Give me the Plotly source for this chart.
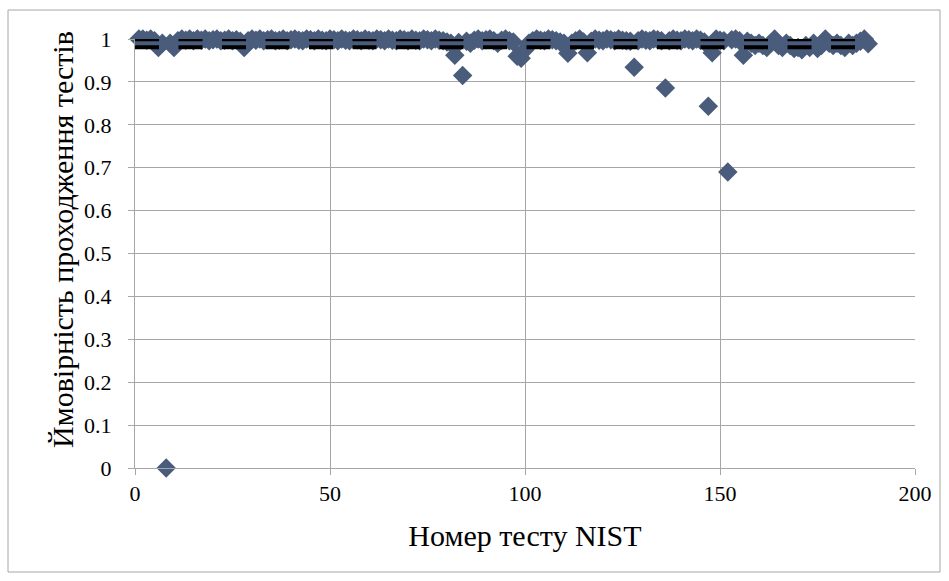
import plotly.graph_objects as go

# NIST STS test index and proportion of sequences that passed each test
test_number = list(range(1, 189))
pass_rate = [
    1.0, 1.0, 0.997, 1.0, 0.996, 0.98, 0.99, 0.0, 0.99, 0.98,
    0.996, 1.0, 0.997, 1.0, 0.996, 1.0, 0.997, 1.0, 0.996, 0.998,
    1.0, 0.996, 0.997, 1.0, 0.996, 0.998, 0.995, 0.98, 0.996, 1.0,
    0.997, 1.0, 0.996, 0.998, 1.0, 0.996, 0.997, 1.0, 0.996, 0.998,
    1.0, 0.997, 0.996, 1.0, 0.998, 0.996, 1.0, 0.997, 0.996, 1.0,
    0.998, 0.996, 1.0, 0.997, 0.996, 1.0, 0.998, 0.996, 1.0, 0.997,
    0.996, 1.0, 0.998, 0.996, 1.0, 0.997, 0.996, 1.0, 0.998, 0.996,
    1.0, 0.997, 0.996, 1.0, 0.998, 0.996, 1.0, 0.997, 0.996, 0.993,
    0.99, 0.962, 0.992, 0.915, 0.995, 0.99, 0.997, 1.0, 0.996, 0.998,
    1.0, 0.996, 0.99, 0.997, 1.0, 0.996, 0.993, 0.96, 0.955, 0.975,
    0.99, 0.996, 1.0, 0.997, 0.996, 1.0, 0.998, 0.996, 0.993, 0.99,
    0.967, 0.99, 0.996, 1.0, 0.993, 0.968, 0.995, 1.0, 0.997, 0.996,
    1.0, 0.998, 0.996, 1.0, 0.997, 0.996, 0.995, 0.934, 0.996, 1.0,
    0.997, 0.996, 1.0, 0.998, 0.996, 0.886, 0.996, 1.0, 0.997, 0.996,
    1.0, 0.998, 0.996, 1.0, 0.997, 0.993, 0.843, 0.968, 1.0, 0.997,
    0.996, 0.69, 0.998, 1.0, 0.996, 0.962, 0.995, 0.99, 0.985, 0.99,
    0.985, 0.98, 0.99, 1.0, 0.985, 0.98, 0.99, 0.985, 0.978, 0.98,
    0.975, 0.985, 0.98, 0.99, 0.978, 0.985, 1.0, 0.99, 0.985, 0.99,
    0.985, 0.98, 0.99, 0.985, 0.99, 0.995, 1.0, 0.989,
]

# Acceptable-proportion interval (p = 0.99, 1000 sequences)
bound_x = [0, 188]
upper_bound = 0.9994
lower_bound = 0.9806

x_ticks = [0, 50, 100, 150, 200]
y_ticks = [round(0.1 * i, 1) for i in range(11)]

x_title = "Номер тесту NIST"
y_title = "Ймовірність проходження тестів"

W, H = 949, 581
ML, MR, MT, MB = 135, 34, 39, 113
plot_w = W - ML - MR
plot_h = H - MT - MB


def px_x(p):
    return (p - ML) / plot_w


def px_y(p):
    return (H - MB - p) / plot_h


fig = go.Figure()

fig.add_trace(go.Scatter(
    x=test_number, y=pass_rate, mode="markers",
    marker=dict(symbol="diamond", size=15, color="#4A5C7B",
                line=dict(width=0)),
    cliponaxis=False, showlegend=False,
))

for level in (upper_bound, lower_bound):
    fig.add_trace(go.Scatter(
        x=bound_x, y=[level, level], mode="lines",
        line=dict(color="black", width=4, dash="24px,19.5px"),
        cliponaxis=False, showlegend=False,
    ))

serif = "Liberation Serif, Times New Roman, serif"
axis_font = dict(family=serif, size=22, color="black")
title_font = dict(family=serif, size=30, color="black")

fig.update_xaxes(
    range=[0, 200], tickvals=x_ticks, ticktext=[str(v) for v in x_ticks],
    showgrid=True, gridcolor="#A6A6A6", gridwidth=1,
    showline=True, linecolor="#A6A6A6", linewidth=1,
    ticks="outside", ticklen=6, tickcolor="#A6A6A6",
    tickfont=axis_font, zeroline=False,
    title=dict(text=x_title, font=title_font, standoff=19),
)
fig.update_yaxes(
    range=[0, 1], tickvals=y_ticks,
    ticktext=[("%g" % v) for v in y_ticks],
    showgrid=True, gridcolor="#A6A6A6", gridwidth=1,
    showline=True, linecolor="#A6A6A6", linewidth=1,
    ticks="outside", ticklen=6, tickcolor="#A6A6A6",
    tickfont=axis_font, zeroline=False, ticklabelstandoff=12,
)

# vertical axis title
fig.add_annotation(
    text=y_title, textangle=-90, showarrow=False,
    xref="paper", yref="paper", x=px_x(62), y=px_y(240),
    xanchor="center", yanchor="middle", font=title_font,
)

# thin frame around the whole chart
fig.add_shape(type="rect", xref="paper", yref="paper",
              x0=px_x(8), x1=px_x(940), y0=px_y(572), y1=px_y(10),
              line=dict(color="#A6A6A6", width=1), layer="below")

fig.update_layout(
    width=W, height=H,
    margin=dict(l=ML, r=MR, t=MT, b=MB),
    paper_bgcolor="white", plot_bgcolor="white",
)

fig.write_html("out.html")
